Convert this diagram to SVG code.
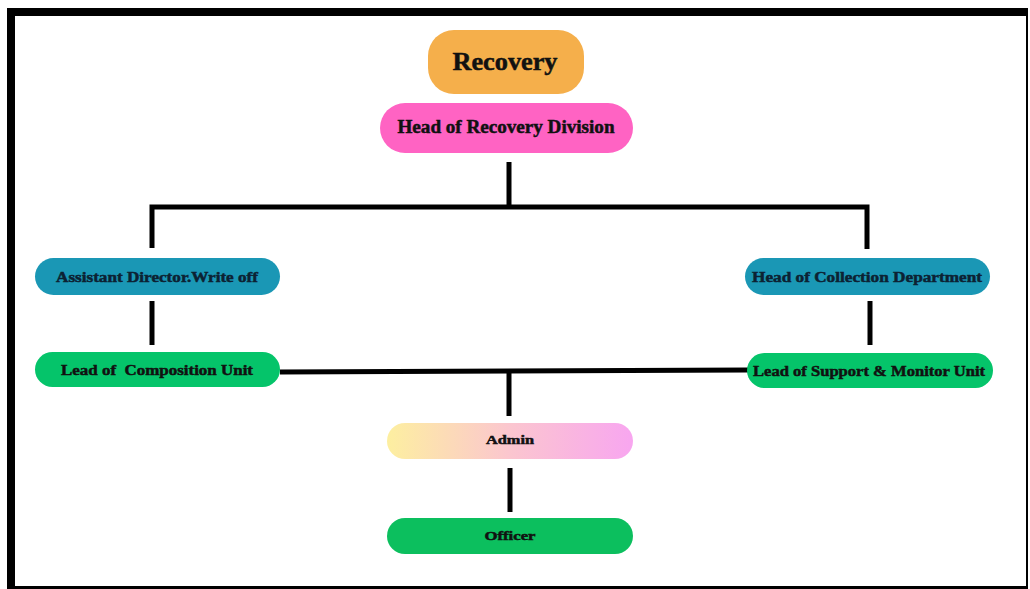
<svg xmlns="http://www.w3.org/2000/svg" width="1030" height="589" viewBox="0 0 1030 589">
<defs>
<linearGradient id="adminGrad" x1="0" y1="0" x2="1" y2="0">
<stop offset="0" stop-color="#FDEFA0"/>
<stop offset="0.5" stop-color="#FBC6CF"/>
<stop offset="1" stop-color="#F8A6F0"/>
</linearGradient>
<style>
.lbl{font-family:"Liberation Serif","DejaVu Serif",serif;font-weight:bold;fill:#111;stroke:#111;stroke-width:0.5;text-anchor:middle}
.dk{fill:#0c2233;stroke:#0c2233}
.con{stroke:#000;stroke-width:5;fill:none;stroke-linecap:butt}
</style>
</defs>
<rect x="0" y="0" width="1030" height="589" fill="#fff"/>
<g id="frame">
<rect x="7" y="8" width="1021" height="8" fill="#000"/>
<rect x="7" y="8" width="8" height="581" fill="#000"/>
<rect x="1026" y="8" width="2" height="581" fill="#000"/>
<rect x="7" y="586" width="1021" height="3" fill="#000"/>
</g>
<g id="connectors">
<path class="con" d="M509 162 V207"/>
<path class="con" d="M152 248 V207 H867 V249"/>
<path class="con" d="M152 301 V345"/>
<path class="con" d="M870 301 V345"/>
<path class="con" d="M280 372 L748 370"/>
<path class="con" d="M509 371 V416"/>
<path class="con" d="M510 468 V512"/>
</g>
<g id="recovery">
<rect x="428" y="30" width="156" height="64" rx="26" fill="#F5AF4B"/>
<text class="lbl" x="505" y="70" font-size="25" textLength="105" lengthAdjust="spacingAndGlyphs">Recovery</text>
</g>
<g id="head-recovery-division">
<rect x="380" y="103" width="253" height="50" rx="25" fill="#FF63C3"/>
<text class="lbl" x="506" y="133" font-size="18" textLength="217" lengthAdjust="spacingAndGlyphs">Head of Recovery Division</text>
</g>
<g id="assistant-director">
<rect x="35" y="258" width="245" height="37" rx="18.5" fill="#1A97B5"/>
<text class="lbl dk" x="157" y="282" font-size="15" textLength="202" lengthAdjust="spacingAndGlyphs">Assistant Director.Write off</text>
</g>
<g id="head-collection">
<rect x="745" y="258" width="245" height="37" rx="18.5" fill="#1A97B5"/>
<text class="lbl dk" x="867" y="282" font-size="15" textLength="230" lengthAdjust="spacingAndGlyphs">Head of Collection Department</text>
</g>
<g id="lead-composition">
<rect x="35" y="352" width="245" height="35" rx="17.5" fill="#05C46A"/>
<text class="lbl" x="157" y="375" font-size="15" textLength="192" lengthAdjust="spacingAndGlyphs" xml:space="preserve">Lead of  Composition Unit</text>
</g>
<g id="lead-support">
<rect x="747" y="353" width="246" height="35" rx="17.5" fill="#05C46A"/>
<text class="lbl" x="869" y="376" font-size="15" textLength="232" lengthAdjust="spacingAndGlyphs">Lead of Support &amp; Monitor Unit</text>
</g>
<g id="admin">
<rect x="387" y="423" width="246" height="36" rx="18" fill="url(#adminGrad)"/>
<text class="lbl" x="510" y="444" font-size="13" textLength="48" lengthAdjust="spacingAndGlyphs">Admin</text>
</g>
<g id="officer">
<rect x="387" y="518" width="246" height="36" rx="18" fill="#0CBF5E"/>
<text class="lbl" x="510" y="540" font-size="13" textLength="51" lengthAdjust="spacingAndGlyphs">Officer</text>
</g>
</svg>
